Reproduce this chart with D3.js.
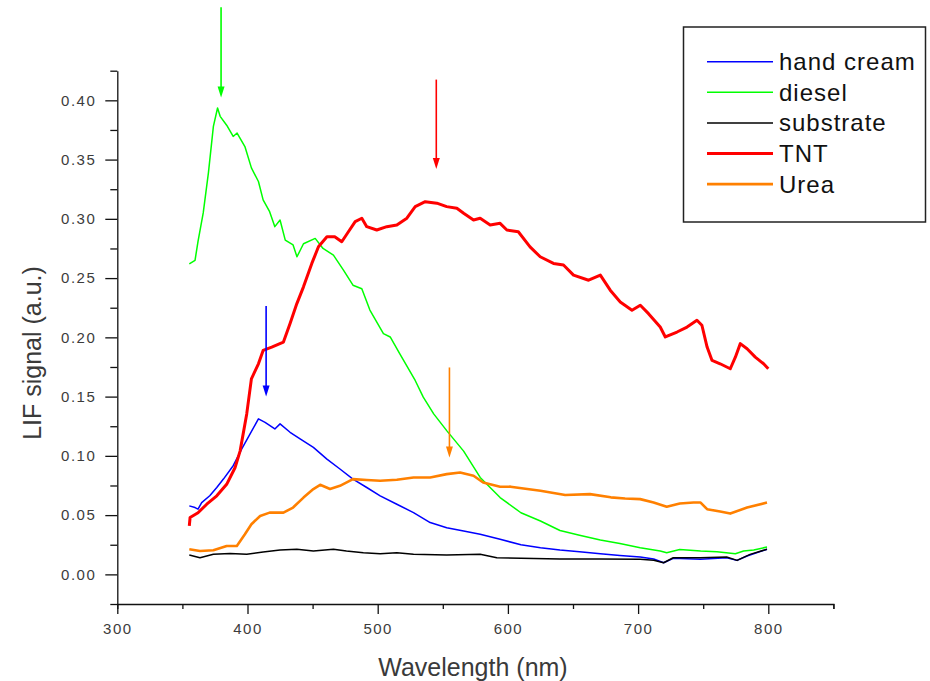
<!DOCTYPE html>
<html lang="en">
<head>
    <meta charset="UTF-8">
    <title>LIF spectra</title>
    <script src="https://d3js.org/d3.v7.min.js"></script>
    <style>
        body { margin: 0; background: #fff; }
        .tick text { font-family: Arial, "Liberation Sans", sans-serif; font-size: 15px; fill: #3c3c3c; letter-spacing: 1.5px; }
        .axis path, .axis line { stroke: #111; stroke-width: 1.3; }
        .title { font-family: Arial, "Liberation Sans", sans-serif; font-size: 25px; fill: #3a3a3a; }
        .legend text { font-family: Arial, "Liberation Sans", sans-serif; font-size: 24px; fill: #111; letter-spacing: 1px; }
    </style>
</head>
<body>
<script>
// Spectra: [wavelength nm, LIF signal a.u.]
const handCream = [[355.3,0.0578],[359.7,0.0564],[362,0.055],[364.8,0.0606],[371,0.0663],[376.4,0.0733],[381.5,0.0804],[389,0.0917],[395.6,0.1058],[402,0.1185],[408.4,0.1312],[413.5,0.1283],[421,0.1227],[425,0.127],[432.7,0.1199],[440.4,0.1143],[450.6,0.1072],[461,0.0973],[471,0.0889],[481,0.0804],[491.6,0.0733],[501.9,0.0663],[514.7,0.0592],[527.5,0.0521],[540.3,0.0437],[553,0.0394],[566,0.0366],[578.7,0.0339],[594,0.0296],[610,0.025],[625,0.0225],[640,0.0205],[655,0.019],[671,0.0175],[686,0.016],[701.6,0.0146],[712,0.013],[719.6,0.0098],[727,0.0135],[747.8,0.0127],[768,0.014],[776,0.0118],[783.7,0.0155],[799,0.0212]];

const diesel = [[355.3,0.262],[359.7,0.265],[362,0.281],[366,0.305],[370,0.339],[373.8,0.378],[377,0.3935],[379,0.3865],[384,0.379],[389,0.3695],[392,0.3724],[398,0.361],[403,0.343],[408.4,0.3315],[412,0.316],[417,0.306],[421,0.2934],[425,0.299],[429,0.282],[435,0.278],[438,0.268],[443,0.279],[452,0.2835],[458,0.275],[466,0.2694],[473.7,0.2567],[481,0.244],[487.8,0.241],[494,0.223],[504.4,0.2032],[509.6,0.2003],[517,0.186],[528.8,0.1636],[535,0.1495],[543,0.1354],[553,0.1213],[566,0.104],[578.7,0.0818],[594,0.0648],[610,0.052],[625,0.045],[640,0.037],[655,0.033],[671,0.029],[686,0.026],[701.6,0.0225],[717,0.0197],[722,0.0183],[732,0.021],[748,0.0197],[760.6,0.019],[774.7,0.0174],[781,0.0197],[788.8,0.0206],[799,0.0231]];

const substrate = [[355.3,0.0163],[363.5,0.014],[373.8,0.0169],[386.6,0.0177],[399.4,0.0169],[412,0.0189],[425,0.0206],[437.9,0.0212],[450.6,0.0197],[466,0.0212],[476,0.0197],[489,0.0183],[501.9,0.0174],[514.7,0.0183],[527.5,0.0169],[553,0.0163],[578.7,0.0169],[591.5,0.014],[610,0.0135],[640,0.013],[670,0.013],[701.6,0.0127],[712,0.012],[719.6,0.0098],[727,0.014],[747.8,0.014],[768,0.0146],[776,0.0118],[786,0.0169],[799,0.0212]];

const tnt = [[355.3,0.0409],[355.9,0.048],[362,0.052],[368.7,0.0592],[376.4,0.0663],[384,0.076],[390.4,0.09],[394.3,0.104],[399.4,0.1354],[403,0.165],[408.4,0.1777],[412,0.189],[418.6,0.1918],[427.6,0.196],[432.7,0.2116],[437.9,0.2285],[443,0.2426],[449.4,0.2624],[454.5,0.2764],[461,0.2849],[467,0.2849],[472.4,0.2807],[477.5,0.2891],[482.7,0.2976],[487.8,0.3005],[491.6,0.2934],[499.3,0.2906],[507,0.2934],[514.7,0.2948],[522.4,0.3005],[528.8,0.3103],[536.5,0.3145],[545.4,0.3132],[553,0.3103],[560.8,0.3089],[566,0.3047],[573.6,0.299],[578.7,0.3005],[586.4,0.2948],[594,0.2962],[599.2,0.2906],[608,0.2891],[617,0.2764],[624.8,0.268],[635,0.2624],[642.7,0.261],[650.4,0.2525],[662,0.2482],[671,0.2525],[678.6,0.2398],[686.3,0.2299],[695.3,0.2229],[701.7,0.2271],[708,0.22],[717,0.2087],[720.9,0.2003],[729.9,0.2045],[737.6,0.2087],[745.2,0.2144],[749,0.2102],[753,0.1918],[756.8,0.1805],[763,0.1777],[770.8,0.1735],[774.7,0.1833],[778.5,0.1947],[783.7,0.1904],[790,0.1833],[796.4,0.1777],[800,0.1735]];

const urea = [[355.3,0.0212],[363.5,0.0197],[373.8,0.0203],[384,0.024],[391.8,0.024],[398,0.0339],[403,0.0423],[409.7,0.0493],[417,0.0521],[427.6,0.0521],[435,0.0564],[443,0.0648],[450.6,0.072],[455.8,0.0756],[463.4,0.072],[471,0.0747],[481,0.0804],[491.6,0.0796],[501.9,0.079],[514.7,0.0798],[527.5,0.0818],[540.3,0.0818],[553,0.0846],[563.3,0.086],[573.6,0.0832],[581,0.0775],[594,0.0739],[602,0.074],[612,0.0725],[625,0.0705],[644,0.067],[663,0.0677],[679,0.065],[690,0.064],[701.6,0.0635],[711.9,0.0606],[722,0.057],[732,0.0598],[742.6,0.0606],[748,0.0606],[753,0.055],[763,0.053],[770.8,0.0513],[783.7,0.0564],[799,0.0606]];

const seriesNames = ["hand cream", "diesel", "substrate", "TNT", "Urea"];
const seriesData = [handCream, diesel, substrate, tnt, urea];
const seriesColors = ["#0000ff", "#00ff00", "#000000", "#ff0000", "#ff8000"];
const seriesWidths = [1.5, 1.5, 1.5, 3, 2.6];

// Arrows marking the peaks
const arrowX = [379.7, 545, 414.3, 555.1];
const arrowTop = [0.4786, 0.4175, 0.2264, 0.1746];
const arrowTip = [0.4023, 0.342, 0.150, 0.0987];
const arrowColors = ["#00ff00", "#ff0000", "#0000ff", "#ff8000"];

const xMajor = [300, 400, 500, 600, 700, 800];
const xMinor = [350, 450, 550, 650, 750, 850];
const yMajor = [0, 0.05, 0.10, 0.15, 0.20, 0.25, 0.30, 0.35, 0.40];
const yMinor = [-0.025, 0.025, 0.075, 0.125, 0.175, 0.225, 0.275, 0.325, 0.375, 0.425];

const width = 930, height = 681;

const svg = d3.select("body").append("svg")
    .attr("width", width)
    .attr("height", height);

const x = d3.scaleLinear().domain([300, 850]).range([117.3, 833.4]);
const y = d3.scaleLinear().domain([-0.025, 0.425]).range([604, 70.7]);

// Axes
svg.append("g").attr("class", "axis")
    .attr("transform", `translate(0,${y(-0.025)})`)
    .call(d3.axisBottom(x).tickValues(xMinor).tickSize(5).tickFormat(""));
svg.append("g").attr("class", "axis")
    .attr("transform", `translate(0,${y(-0.025)})`)
    .call(d3.axisBottom(x).tickValues(xMajor).tickSize(10).tickPadding(9).tickFormat(d3.format("d")))
    .call(g => g.select(".domain").remove());

svg.append("g").attr("class", "axis")
    .attr("transform", `translate(${x(300)},0)`)
    .call(d3.axisLeft(y).tickValues(yMinor).tickSize(7).tickFormat("").tickSizeOuter(0));
svg.append("g").attr("class", "axis")
    .attr("transform", `translate(${x(300)},0)`)
    .call(d3.axisLeft(y).tickValues(yMajor).tickSize(12).tickPadding(9).tickFormat(d3.format(".2f")))
    .call(g => g.select(".domain").remove());

// Axis titles
svg.append("text").attr("class", "title")
    .attr("x", 473).attr("y", 676)
    .attr("text-anchor", "middle")
    .text("Wavelength (nm)");
svg.append("text").attr("class", "title")
    .attr("transform", "translate(41,353) rotate(-90)")
    .attr("text-anchor", "middle")
    .text("LIF signal (a.u.)");

// Lines
const line = d3.line().x(d => x(d[0])).y(d => y(d[1]));
seriesData.forEach((data, i) => {
    svg.append("path")
        .datum(data)
        .attr("fill", "none")
        .attr("stroke", seriesColors[i])
        .attr("stroke-width", seriesWidths[i])
        .attr("stroke-linejoin", "round")
        .attr("d", line);
});

// Arrows
arrowX.forEach((ax, i) => {
    const px = x(ax), top = y(arrowTop[i]), tip = y(arrowTip[i]);
    svg.append("line")
        .attr("x1", px).attr("x2", px)
        .attr("y1", top).attr("y2", tip - 6)
        .attr("stroke", arrowColors[i])
        .attr("stroke-width", 1.6);
    svg.append("path")
        .attr("d", `M${px - 3.5},${tip - 11} L${px + 3.5},${tip - 11} L${px},${tip} Z`)
        .attr("fill", arrowColors[i]);
});

// Legend
const legend = svg.append("g").attr("class", "legend");
legend.append("rect")
    .attr("x", 683.5).attr("y", 27)
    .attr("width", 242).attr("height", 195)
    .attr("fill", "#fff")
    .attr("stroke", "#222")
    .attr("stroke-width", 1.5);
seriesNames.forEach((name, i) => {
    const ly = 61.7 + i * 30.6;
    legend.append("line")
        .attr("x1", 707).attr("x2", 773)
        .attr("y1", ly).attr("y2", ly)
        .attr("stroke", seriesColors[i])
        .attr("stroke-width", seriesWidths[i]);
    legend.append("text")
        .attr("x", 779).attr("y", ly + 8.5)
        .text(name);
});
</script>
</body>
</html>
